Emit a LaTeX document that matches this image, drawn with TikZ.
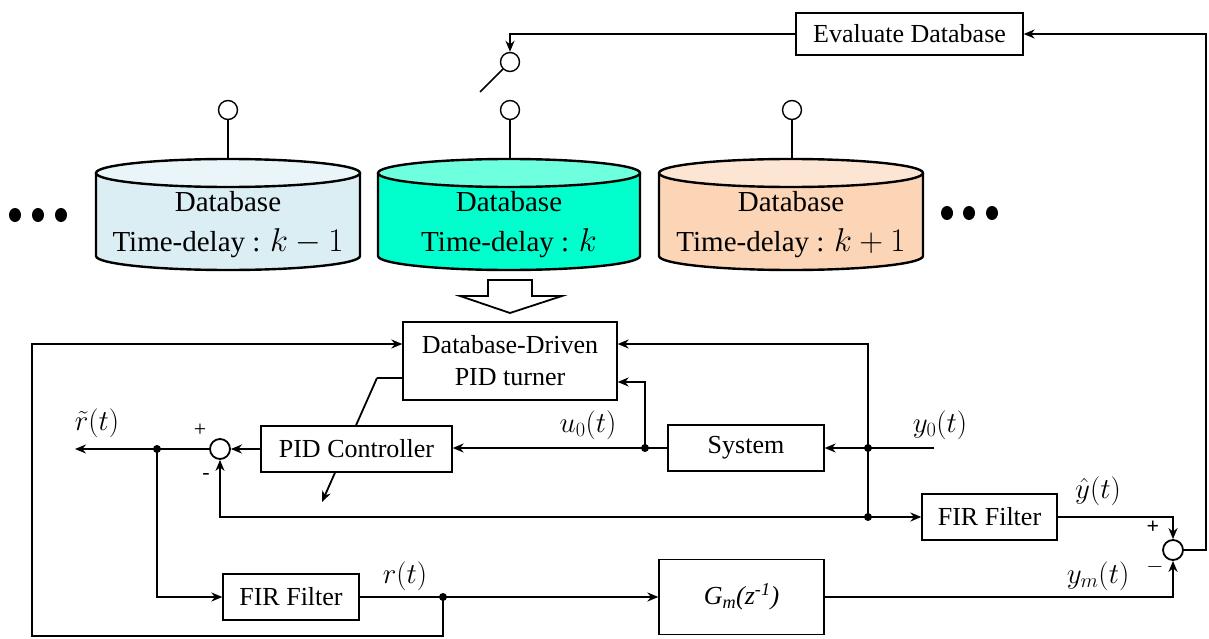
\RequirePackage{fix-cm}
\documentclass[tikz,border=0pt]{standalone}
\usepackage{fontspec}
\setmainfont{Liberation Serif}
\usetikzlibrary{arrows.meta,calc}

\definecolor{dbblue}{RGB}{219,238,243}
\definecolor{dbbluetop}{RGB}{234,245,249}
\definecolor{dbaqua}{RGB}{0,255,204}
\definecolor{dbaquatop}{RGB}{110,255,222}
\definecolor{dbpeach}{RGB}{251,213,181}
\definecolor{dbpeachtop}{RGB}{253,229,212}

\tikzset{
  blk/.style={draw, line width=1.3pt, fill=white, inner sep=0pt, align=center,
              font=\fontsize{26}{30}\selectfont},
  sumnode/.style={draw, line width=1.8pt, circle, minimum size=20pt, inner sep=0pt, fill=white},
  wire/.style={line width=1.8pt},
  arr/.style={wire, -{Stealth[length=11pt,width=9pt]}},
  dot/.style={circle, fill=black, minimum size=8pt, inner sep=0pt},
  lbl/.style={font=\fontsize{29}{34}\selectfont, inner sep=0pt},
  sgn/.style={font=\fontsize{22}{26}\selectfont, inner sep=0pt},
  dbtext/.style={align=center, font=\fontsize{29}{40}\selectfont, inner sep=0pt},
  cylline/.style={line width=2.4pt},
  terminal/.style={draw, circle, line width=1.4pt, minimum size=19pt, inner sep=0pt, fill=white},
}

% larger maths beside serif text
\newcommand{\delaymath}[1]{{\fontsize{33}{40}\selectfont$#1$}}

% cylinder: #1 centre x, #2 half width, #3 body colour, #4 lid colour
\newcommand{\dbcyl}[4]{%
  \fill[#3] (#1-#2,173) rectangle (#1+#2,256);
  \fill[#3] (#1,256) ellipse [x radius=#2, y radius=14];
  \draw[cylline] (#1-#2,173) -- (#1-#2,256)
     arc [start angle=180, end angle=0, x radius=#2, y radius=14] -- (#1+#2,173);
  \filldraw[cylline, fill=#4] (#1,173) ellipse [x radius=#2, y radius=14];
}

\begin{document}
\begin{tikzpicture}[x=1pt, y=-1pt]
\useasboundingbox (0,0) rectangle (1209,639);

% ---- databases ----
\dbcyl{228}{132}{dbblue}{dbbluetop}
\dbcyl{509}{131}{dbaqua}{dbaquatop}
\dbcyl{791}{132}{dbpeach}{dbpeachtop}

\node[dbtext] (db1) at (228,225) {Database\\Time-delay : \delaymath{k-1}};
\node[dbtext] (db2) at (509,225) {Database\\Time-delay : \delaymath{k}};
\node[dbtext] (db3) at (791,225) {Database\\Time-delay : \delaymath{k+1}};

% terminals on top of each database
\foreach \x/\n in {228/t1, 510/t2, 792/t3} {
  \node[terminal] (\n) at (\x,110) {};
  \draw[line width=1.4pt] (\n.south) -- (\x,159);
}

% selector switch
\node[terminal] (sw) at (510,62) {};
\coordinate (swend) at (480,92);
\draw[line width=1.6pt] (sw.225) -- (swend);

% ellipses beside the databases
\foreach \x in {15,38,61} \fill (\x,215) ellipse [x radius=6, y radius=7];
\foreach \x in {947,969,992} \fill (\x,213) ellipse [x radius=6, y radius=7];

% hollow arrow toward the tuner
\draw[line width=1.8pt, fill=white, line join=miter]
  (488,280) -- (532,280) -- (532,296) -- (562,296) -- (510,313) -- (460,296) -- (488,296) -- cycle;

% ---- blocks ----
\node[blk, minimum width=227pt, minimum height=42pt] (eval) at (909.5,34) {Evaluate Database};
\node[blk, minimum width=214pt, minimum height=78pt] (ddpid) at (510,361)
  {Database-Driven\\[2pt]PID turner};

% tuning arrow through the controller
\coordinate (tk) at (377,378);
\coordinate (tend) at (322,502);
\draw[wire] ([yshift=-17pt]ddpid.west) -- (tk);
\draw[arr] (tk) -- (tend);

\node[blk, minimum width=191pt, minimum height=46pt] (pidc) at (356.5,449) {PID Controller};
\node[blk, minimum width=156pt, minimum height=46pt] (sys) at (746,448) {System};
\node[blk, minimum width=136pt, minimum height=46pt] (fir1) at (291,597) {FIR Filter};
\node[blk, minimum width=135pt, minimum height=46pt] (fir2) at (989.5,517) {FIR Filter};
\node[blk, minimum width=165pt, minimum height=75pt] (gm) at (741.5,597)
  {\itshape G\textsubscript{m}(z\textsuperscript{-1})};

\node[sumnode] (s1) at (220,449) {};
\node[sumnode] (s2) at (1173,550) {};

% junctions
\node[dot] (jy0) at (868,448) {};
\node[dot] (jlow) at (868,517) {};
\node[dot] (ju0) at (645,448) {};
\node[dot] (jr) at (157,449) {};
\node[dot] (jrt) at (443,597) {};

\coordinate (yin) at (934,448);
\coordinate (rout) at (75,449);

% ---- connectors ----
\draw[arr] (eval.west) -| (sw.north);
\draw[arr] (s2.east) -- (1206,550) |- (eval.east);
\draw[arr] (fir2.east) -| (s2.north);
\draw[arr] (gm.east) -| (s2.south);

\draw[arr] (yin) -- (sys.east);
\draw[arr] (jy0.center) |- ([yshift=17pt]ddpid.east);
\draw[wire] (jy0.center) -- (jlow.center);
\draw[arr] (jlow.center) -- (fir2.west);
\draw[arr] (jlow.center) -| (s1.south);

\draw[arr] (sys.west) -- (sys.west -| pidc.east);
\draw[arr] (ju0.center) |- ([yshift=-21pt]ddpid.east);
\draw[arr] (pidc.west) -- (s1.east);
\draw[arr] (s1.west) -- (rout);
\draw[arr] (jr.center) |- (fir1.west);

\draw[wire] (fir1.east) -- (jrt.center);
\draw[arr] (jrt.center) -- (gm.west);
\draw[arr] (jrt.center) -- (443,636) -- (32,636) |- ([yshift=17pt]ddpid.west);

% ---- labels ----
\node[lbl] (lrt) at (97,423) {$\tilde{r}(t)$};
\node[sgn] (p1) at (200,430) {+};
\node[sgn] (m1) at (206,476) {-};
\node[lbl] (lu0) at (588,425) {$u_0(t)$};
\node[lbl] (ly0) at (940,425) {$y_0(t)$};
\node[lbl] (lyh) at (1098,491) {$\hat{y}(t)$};
\node[sgn, font=\bfseries\fontsize{22}{26}\selectfont] (p2) at (1153,527) {+};
\node[sgn] (m2) at (1155,567) {$-$};
\node[lbl] (lym) at (1098,576) {$y_m(t)$};
\node[lbl] (lr) at (405,576) {$r(t)$};
\end{tikzpicture}
\end{document}
